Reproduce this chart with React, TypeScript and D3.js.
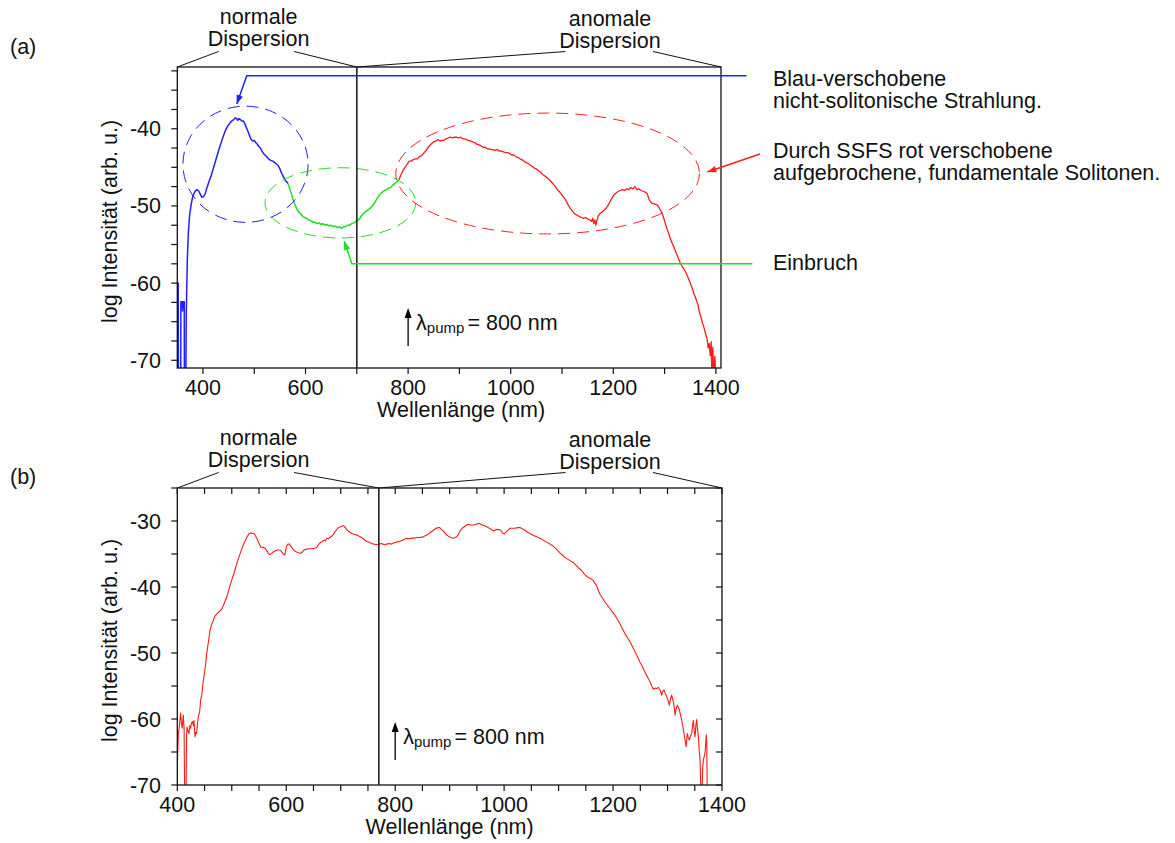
import React from "react";
import * as d3 from "d3";

type Pt = [number, number];

const FONT = "'Liberation Sans', Arial, Helvetica, sans-serif";
const FS = 21.5;

// ---------- spectra (wavelength nm, log intensity) ----------
// (a) short-wavelength part: dispersive wave
const blueSegA: Pt[] = [
  [350, -80], [350.3, -60], [351.8, -60], [352.3, -80], [356.5, -80], [357, -62.4], [359.5, -62.4],
  [360.2, -63.6], [361, -62.4], [363.5, -62.4], [364, -80], [366, -80], [367.5, -64], [369.5, -57],
  [371.5, -53.5], [374, -51.2], [377, -49.8], [380, -48.8], [383, -48.3], [386, -48.0], [389, -47.9],
  [392, -48.1], [395, -48.5], [398, -48.9], [401, -48.8], [404, -48.5], [408, -47.6], [412, -46.8],
  [416, -46.1], [420, -45.2], [424, -44.3], [428, -43.4], [432, -42.5], [436, -41.7], [440, -40.9],
  [444, -40.2], [448, -39.7], [452, -39.3], [456, -39.0], [460, -38.8], [463, -38.6], [466, -38.7],
  [468, -38.9], [470, -38.7], [473, -38.8], [476, -39.0], [479, -39.0], [482, -39.4], [485, -39.9],
  [488, -40.4], [491, -40.9], [494, -41.4], [497, -41.6], [500, -41.5], [503, -41.8], [506, -42.0],
  [509, -42.3], [512, -42.5], [515, -42.9], [518, -43.2], [521, -43.4], [524, -43.6], [528, -43.9],
  [532, -44.1], [536, -44.2], [540, -44.4], [544, -44.6], [547, -44.8], [550, -45.2], [553, -45.7],
  [556, -46.1], [559, -46.5], [562, -46.8], [566, -47.1],
];

// (a) spectral dip between the two regions
const greenSegA: Pt[] = [
  [566, -47.1], [569, -47.7], [572, -48.3], [575, -49.0], [578, -49.6], [581, -50.1], [584, -50.5],
  [587, -50.8], [590, -51.0], [594, -51.3], [598, -51.5], [602, -51.6], [606, -51.8], [610, -51.9],
  [614, -52.1], [618, -52.1], [622, -52.3], [626, -52.2], [630, -52.4], [634, -52.3], [638, -52.5],
  [642, -52.4], [646, -52.6], [650, -52.5], [654, -52.7], [658, -52.6], [662, -52.8], [666, -52.7],
  [670, -52.9], [674, -52.7], [678, -52.7], [682, -52.5], [686, -52.5], [690, -52.3], [694, -52.2],
  [698, -52.0], [702, -51.9], [706, -51.6], [710, -51.2], [714, -50.9], [718, -50.7], [722, -50.5],
  [726, -50.3], [730, -50.0], [734, -49.7], [738, -49.2], [742, -48.8], [746, -48.4], [750, -48.2],
  [754, -48.0], [758, -47.9], [762, -47.7], [766, -47.6], [770, -47.3], [774, -47.1], [778, -46.9],
  [782, -46.6],
];

// (a) long-wavelength part: red-shifted solitons
const redSegA: Pt[] = [
  [782, -46.6], [786, -46.0], [790, -45.4], [794, -45.0], [798, -44.6], [802, -44.2], [806, -44.2],
  [810, -44.0], [814, -43.9], [818, -43.9], [822, -43.6], [826, -43.5], [830, -43.2], [834, -42.9],
  [838, -42.5], [842, -42.2], [846, -41.9], [850, -41.7], [854, -41.6], [858, -41.4], [862, -41.6],
  [866, -41.5], [870, -41.5], [874, -41.3], [878, -41.2], [882, -41.1], [886, -41.2], [890, -41.1],
  [894, -41.1], [898, -41.2], [902, -41.1], [906, -41.3], [910, -41.3], [914, -41.4], [918, -41.5],
  [922, -41.6], [926, -41.7], [930, -41.8], [934, -42.0], [938, -42.1], [942, -42.2], [946, -42.4],
  [950, -42.4], [954, -42.6], [958, -42.6], [962, -42.7], [966, -42.7], [970, -42.8], [974, -42.7],
  [978, -42.9], [982, -42.9], [986, -43.0], [990, -43.1], [994, -43.1], [998, -43.2], [1002, -43.4],
  [1006, -43.4], [1010, -43.6], [1014, -43.7], [1018, -43.9], [1022, -44.0], [1026, -44.2],
  [1030, -44.4], [1034, -44.5], [1038, -44.7], [1042, -44.9], [1046, -45.1], [1050, -45.2],
  [1054, -45.4], [1058, -45.6], [1062, -45.9], [1066, -46.1], [1070, -46.3], [1074, -46.5],
  [1078, -46.8], [1082, -47.1], [1086, -47.4], [1090, -47.8], [1094, -48.1], [1098, -48.4],
  [1102, -48.8], [1106, -49.1], [1110, -49.6], [1114, -50.1], [1118, -50.5], [1122, -50.8],
  [1126, -51.1], [1130, -51.2], [1134, -51.4], [1138, -51.5], [1142, -51.6], [1146, -51.5],
  [1150, -51.7], [1154, -51.8], [1158, -52.0], [1160, -51.6], [1162, -52.3], [1164, -51.8],
  [1166, -52.5], [1168, -51.9], [1170, -51.4], [1174, -51.0], [1178, -50.8], [1182, -50.6],
  [1186, -50.3], [1190, -49.9], [1194, -49.4], [1198, -48.9], [1202, -48.5], [1206, -48.3],
  [1210, -48.1], [1214, -48.0], [1218, -47.9], [1222, -48.0], [1226, -47.8], [1230, -47.9],
  [1234, -47.6], [1238, -47.8], [1242, -47.5], [1246, -47.9], [1250, -47.8], [1254, -48.0],
  [1258, -48.1], [1262, -48.2], [1266, -48.4], [1270, -49.2], [1274, -49.6], [1278, -49.7],
  [1282, -49.8], [1286, -49.9], [1290, -50.3], [1294, -50.8], [1298, -51.5], [1302, -52.4],
  [1306, -53.2], [1310, -54.0], [1314, -54.7], [1318, -55.3], [1322, -56.0], [1326, -56.6],
  [1330, -57.3], [1334, -57.8], [1338, -58.2], [1342, -58.7], [1346, -59.3], [1350, -60.0],
  [1354, -60.7], [1358, -61.5], [1362, -62.2], [1365, -62.8], [1368, -63.8], [1371, -64.4],
  [1374, -65.2], [1377, -65.8], [1380, -66.6], [1383, -67.3], [1385, -68.4], [1387, -67.8],
  [1389, -69.4], [1391, -67.6], [1392, -72], [1394, -68.3], [1396, -72], [1398, -69.5], [1400, -72],
];

// (b) full supercontinuum
const spectrumB: Pt[] = [
  [400, -67.2], [402, -62.2], [404, -61.0], [406, -59.1], [407.5, -60.6], [409, -61.4], [411, -59.4],
  [412.5, -61.5], [413.5, -72], [416, -72], [417, -62.5], [418, -61.2], [420, -62.0], [421.5, -62.2],
  [423, -61.0], [424.5, -61.4], [426, -60.6], [428, -60.4], [429.5, -61.0], [430.7, -60.2],
  [432.5, -62.7], [434, -62.0], [435.5, -62.2], [437, -60.8], [438.6, -59.6], [441, -58.9],
  [443, -57.1], [445.5, -56.0], [447.8, -54.1], [451, -52.4], [454, -50.1], [457, -48.4],
  [460, -46.6], [463, -45.7], [466, -45.1], [469, -44.4], [472, -44.1], [475, -43.9], [478.4, -43.6],
  [481, -43.4], [484.5, -42.8], [487.5, -42.2], [490.6, -41.6], [495, -40.3], [499.8, -39.0],
  [504.5, -37.8], [509, -36.5], [513.5, -35.4], [518, -34.3], [523, -33.3], [527.4, -32.5],
  [531, -32.0], [534, -31.8], [537.5, -31.9], [541, -31.9], [544, -32.3], [547, -32.8], [550, -33.4],
  [553, -33.9], [556, -34.0], [559, -34.0], [562, -34.2], [565, -34.6], [568, -35.0], [570, -35.1],
  [573, -34.9], [576, -34.7], [580, -34.5], [584, -34.4], [588.5, -34.4], [591, -34.6], [593.5, -34.9],
  [596, -35.1], [597.7, -35.1], [599, -34.3], [600.8, -33.8], [603, -33.5], [605.7, -33.5],
  [608.5, -33.8], [611.8, -34.2], [615, -34.5], [619, -34.7], [622, -34.8], [626.5, -34.9],
  [629.5, -34.7], [632.6, -34.4], [636, -34.3], [640.6, -34.2], [645, -34.2], [649.8, -34.2],
  [653, -34.1], [655.9, -34.0], [659, -33.6], [662, -33.3], [666, -33.1], [669.3, -32.9], [672, -33.0],
  [674.5, -32.6], [677.3, -32.7], [680, -32.5], [683.4, -32.3], [686, -32.1], [689.5, -31.6],
  [692, -31.4], [695.6, -31.0], [699, -30.9], [702, -30.8], [704.8, -30.7], [707.5, -30.9],
  [711, -31.3], [715, -31.6], [720.1, -31.9], [725, -32.0], [729.3, -32.1], [734, -32.3],
  [738.5, -32.5], [743, -32.8], [747.6, -33.1], [752, -33.2], [756.8, -33.4], [761, -33.5],
  [766, -33.6], [770, -33.5], [775, -33.4], [780, -33.6], [784.4, -33.5], [789, -33.4],
  [793.5, -33.5], [798, -33.3], [802.7, -33.2], [807, -33.1], [811.9, -33.0], [816, -32.8],
  [821, -32.6], [825, -32.7], [830.2, -32.6], [835, -32.6], [839.4, -32.5], [845, -32.5],
  [851.6, -32.4], [856, -32.2], [860.8, -32.0], [865, -31.7], [870, -31.4], [875, -31.1],
  [879.2, -31.0], [882, -31.0], [885, -31.3], [888.4, -31.5], [893, -32.0], [897.6, -32.3],
  [902, -32.5], [906.8, -32.6], [910, -32.5], [912.9, -32.4], [916, -32.0], [919, -31.5],
  [923, -31.1], [928.2, -30.8], [931, -30.6], [934.3, -30.5], [939, -30.6], [943.5, -30.6],
  [948, -30.5], [952, -30.4], [955.7, -30.4], [959, -30.6], [962, -30.6], [966, -30.8], [971, -31.0],
  [975, -31.2], [980.2, -31.5], [983, -31.4], [986.3, -31.3], [990, -31.3], [993.7, -31.4],
  [997, -31.8], [999.8, -32.0], [1002, -31.8], [1004.7, -31.6], [1008, -31.3], [1010.8, -31.1],
  [1015, -31.1], [1020, -31.1], [1025, -31.0], [1029.2, -31.0], [1034, -31.2], [1038.4, -31.4],
  [1043, -31.7], [1047.5, -31.9], [1054, -32.2], [1059.8, -32.4], [1066, -32.6], [1072, -32.9],
  [1078, -33.2], [1084.3, -33.5], [1090, -33.8], [1096.5, -34.3], [1102, -34.8], [1108.7, -35.3],
  [1115, -35.7], [1121, -36.0], [1127, -36.3], [1133.2, -36.8], [1138, -37.2], [1142.4, -37.5],
  [1147, -38.0], [1151.6, -38.4], [1158, -38.7], [1163.8, -39.0], [1167, -39.5], [1170, -39.8],
  [1173, -40.5], [1176, -41.1], [1180, -41.6], [1185.2, -42.3], [1190, -42.8], [1194.4, -43.3],
  [1199, -43.8], [1203.6, -44.3], [1208, -44.9], [1212.8, -45.6], [1217, -46.3], [1222, -47.1],
  [1226, -47.6], [1231.1, -48.3], [1236, -49.1], [1240.3, -49.8], [1245, -50.6], [1249.5, -51.4],
  [1254, -52.1], [1258.7, -52.9], [1263, -53.6], [1267.9, -54.4], [1271, -55.0], [1274, -55.5],
  [1277, -55.3], [1280.1, -55.4], [1283, -55.2], [1286.2, -55.6], [1289.3, -56.4], [1291, -55.8],
  [1293.6, -55.6], [1296, -56.2], [1298.5, -56.6], [1301, -57.2], [1303.4, -57.9], [1305.5, -56.9],
  [1307.6, -56.4], [1310.7, -57.4], [1312.5, -58.3], [1313.8, -59.4], [1316, -58.4], [1318, -57.9],
  [1320, -58.3], [1321.7, -58.6], [1324, -59.4], [1326, -60.2], [1328, -61.1], [1330.3, -62.2],
  [1332, -63.1], [1334, -64.2], [1336.4, -62.2], [1338, -62.8], [1340.1, -63.2], [1342, -62.6],
  [1344.4, -62.2], [1346, -61.0], [1347.4, -60.2], [1349, -61.8], [1350.5, -62.7], [1352, -61.0],
  [1353.5, -60.1], [1355, -61.5], [1356.6, -62.7], [1358, -64.5], [1359.7, -66.2], [1361.5, -72],
  [1363, -72], [1364.5, -67.5], [1365.8, -66.2], [1368.8, -65.2], [1371.2, -62.4], [1372, -63.5],
  [1373, -72],
];

const xTickLabels = [400, 600, 800, 1000, 1200, 1400];
const yTickLabelsA = [-40, -50, -60, -70];
const yTickLabelsB = [-30, -40, -50, -60, -70];

const PUMP_NM = 800;
const ZERO_DISP_A = 700;
const ZERO_DISP_B = 770;

// Region outlines in panel (a), in data units
const regionsA = [
  { color: "#1f1fff", cx: 483, cy: -44.6, rx: 122, ry: 7.53 },
  { color: "#22dd22", cx: 668, cy: -49.6, rx: 147, ry: 4.55 },
  { color: "#ff2020", cx: 1072, cy: -45.8, rx: 296, ry: 7.83 },
];

// Leader lines (data units) ending in an arrow tip
const leadersA: { color: string; pts: Pt[] }[] = [
  { color: "#1f1fff", pts: [[1459.7, -33.13], [485.4, -33.13], [465.9, -36.8]] },
  { color: "#ff2020", pts: [[1486, -43.28], [1383.4, -45.6]] },
  { color: "#22dd22", pts: [[1471.1, -57.49], [690.3, -57.49], [675.3, -54.55]] },
];

const notesA = [
  { lines: ["Blau-verschobene", "nicht-solitonische Strahlung."], y: 86 },
  { lines: ["Durch SSFS rot verschobene", "aufgebrochene, fundamentale Solitonen."], y: 158 },
  { lines: ["Einbruch"], y: 270 },
];

// ---------- layout ----------
const PA = { x0: 177.3, x1: 721, yTop: 67, yBot: 368, xDom: [350, 1410], yDom: [-71, -32] };
const PB = { x0: 177.3, x1: 722, yTop: 488, yBot: 785, xDom: [400, 1400], yDom: [-70, -25] };
const TICK = 6;

function arrowHead(x1: number, y1: number, x2: number, y2: number, len = 10, half = 3.5) {
  const dx = x2 - x1, dy = y2 - y1;
  const d = Math.hypot(dx, dy) || 1;
  const ux = dx / d, uy = dy / d;
  const bx = x2 - ux * len, by = y2 - uy * len;
  return `${x2},${y2} ${bx - uy * half},${by + ux * half} ${bx + uy * half},${by - ux * half}`;
}

function DispersionHeader({ xL, xZ, xR, yTop }: { xL: number; xZ: number; xR: number; yTop: number }) {
  const up = yTop - 15.5;
  return (
    <g fontSize={FS} textAnchor="middle" fill="#111">
      <text x={258.6} y={yTop - 43}>normale</text>
      <text x={258.6} y={yTop - 21}>Dispersion</text>
      <text x={610} y={yTop - 41}>anomale</text>
      <text x={610} y={yTop - 19}>Dispersion</text>
      <g stroke="#111" strokeWidth={1} fill="none">
        <line x1={xL} y1={yTop} x2={218.6} y2={up} />
        <line x1={294} y1={up} x2={xZ} y2={yTop} />
        <line x1={xZ} y1={yTop} x2={565.5} y2={up} />
        <line x1={653} y1={up} x2={xR} y2={yTop} />
      </g>
    </g>
  );
}

function PumpLabel({ x, yBase }: { x: number; yBase: number }) {
  return (
    <g>
      <line x1={x} y1={yBase + 16} x2={x} y2={yBase - 16} stroke="#000" strokeWidth={1.3} />
      <polygon points={arrowHead(x, yBase + 16, x, yBase - 22, 10, 3.5)} fill="#000" />
      <text x={x + 8} y={yBase} fontSize={FS} fill="#111">
        λ<tspan fontSize={15} dy={3}>pump</tspan>
        <tspan dy={-3} dx={3}>= 800 nm</tspan>
      </text>
    </g>
  );
}

export default function App() {
  const xa = d3.scaleLinear().domain(PA.xDom).range([PA.x0, PA.x1]);
  const ya = d3.scaleLinear().domain(PA.yDom).range([PA.yBot, PA.yTop]);
  const xb = d3.scaleLinear().domain(PB.xDom).range([PB.x0, PB.x1]);
  const yb = d3.scaleLinear().domain(PB.yDom).range([PB.yBot, PB.yTop]);

  const lineA = d3.line<Pt>().x((d) => xa(d[0])).y((d) => ya(d[1]));
  const lineB = d3.line<Pt>().x((d) => xb(d[0])).y((d) => yb(d[1]));

  const minorXA = d3.range(400, 1401, 100);
  const minorYA = d3.range(-70, -32, 2.5);
  const minorXB = d3.range(400, 1401, 50);
  const minorYB = d3.range(-70, -24, 5);

  return (
    <div style={{ position: "absolute", left: 0, top: 0 }}>
      <svg width={1175} height={843} style={{ display: "block", background: "#fff" }} fontFamily={FONT}>
        <defs>
          <clipPath id="clipA">
            <rect x={PA.x0} y={PA.yTop} width={PA.x1 - PA.x0} height={PA.yBot - PA.yTop} />
          </clipPath>
          <clipPath id="clipB">
            <rect x={PB.x0} y={PB.yTop} width={PB.x1 - PB.x0} height={PB.yBot - PB.yTop} />
          </clipPath>
        </defs>

        {/* ================= panel (a) ================= */}
        <text x={10} y={54} fontSize={FS} fill="#111">(a)</text>
        <DispersionHeader xL={PA.x0} xZ={xa(ZERO_DISP_A)} xR={PA.x1} yTop={PA.yTop} />

        <g clipPath="url(#clipA)" fill="none" strokeWidth={1.5} strokeLinejoin="round">
          <path d={lineA(blueSegA) ?? ""} stroke="#1f1fff" />
          <path d={lineA(greenSegA) ?? ""} stroke="#22dd22" />
          <path d={lineA(redSegA) ?? ""} stroke="#ff1a1a" strokeWidth={1.3} />
        </g>

        {regionsA.map((r, i) => (
          <ellipse
            key={i}
            cx={xa(r.cx)}
            cy={ya(r.cy)}
            rx={xa(r.cx + r.rx) - xa(r.cx)}
            ry={ya(r.cy - r.ry) - ya(r.cy)}
            fill="none"
            stroke={r.color}
            strokeWidth={1}
            strokeDasharray="12 7"
          />
        ))}

        {/* plot frame and zero-dispersion line */}
        <rect x={PA.x0} y={PA.yTop} width={PA.x1 - PA.x0} height={PA.yBot - PA.yTop} fill="none" stroke="#111" strokeWidth={1.3} />
        <line x1={xa(ZERO_DISP_A)} x2={xa(ZERO_DISP_A)} y1={PA.yTop} y2={PA.yBot} stroke="#222" strokeWidth={1.6} />

        {leadersA.map((l, i) => {
          const p = l.pts.map(([x, y]) => [xa(x), ya(y)] as Pt);
          const n = p.length;
          return (
            <g key={i}>
              <polyline points={p.map((q) => q.join(",")).join(" ")} fill="none" stroke={l.color} strokeWidth={1.5} />
              <polygon points={arrowHead(p[n - 2][0], p[n - 2][1], p[n - 1][0], p[n - 1][1], 9, 3.3)} fill={l.color} />
            </g>
          );
        })}

        {notesA.map((n, i) => (
          <text key={i} x={773} y={n.y} fontSize={FS} fill="#111">
            {n.lines.map((s, j) => (
              <tspan key={j} x={773} dy={j === 0 ? 0 : 22}>{s}</tspan>
            ))}
          </text>
        ))}

        <PumpLabel x={xa(PUMP_NM)} yBase={330} />

        {/* axes (a) */}
        <g stroke="#111" strokeWidth={1.2}>
          {minorXA.map((v) => (
            <line key={v} x1={xa(v)} x2={xa(v)} y1={PA.yBot} y2={PA.yBot + TICK} />
          ))}
          {minorYA.map((v) => (
            <line key={v} x1={PA.x0 - TICK} x2={PA.x0} y1={ya(v)} y2={ya(v)} />
          ))}
        </g>
        <g fontSize={FS} fill="#111">
          {xTickLabels.map((v) => (
            <text key={v} x={xa(v)} y={PA.yBot + 26.5} textAnchor="middle">{v}</text>
          ))}
          {yTickLabelsA.map((v) => (
            <text key={v} x={161} y={ya(v) + 7.5} textAnchor="end">{v}</text>
          ))}
          <text x={(PA.x0 + PA.x1) / 2 + 12} y={PA.yBot + 49} textAnchor="middle">Wellenlänge (nm)</text>
          <text transform={`translate(117,${(PA.yTop + PA.yBot) / 2 + 4}) rotate(-90)`} textAnchor="middle">
            log Intensität (arb. u.)
          </text>
        </g>

        {/* ================= panel (b) ================= */}
        <text x={10} y={484} fontSize={FS} fill="#111">(b)</text>
        <DispersionHeader xL={PB.x0} xZ={xb(ZERO_DISP_B)} xR={PB.x1} yTop={PB.yTop} />

        <g clipPath="url(#clipB)" fill="none" strokeWidth={1.1} strokeLinejoin="round">
          <path d={lineB(spectrumB) ?? ""} stroke="#ff1a1a" />
        </g>

        <rect x={PB.x0} y={PB.yTop} width={PB.x1 - PB.x0} height={PB.yBot - PB.yTop} fill="none" stroke="#111" strokeWidth={1.3} />
        <line x1={xb(ZERO_DISP_B)} x2={xb(ZERO_DISP_B)} y1={PB.yTop} y2={PB.yBot} stroke="#222" strokeWidth={1.6} />

        <PumpLabel x={xb(PUMP_NM)} yBase={744} />

        <g stroke="#111" strokeWidth={1.2}>
          {minorXB.map((v) => (
            <g key={v}>
              <line x1={xb(v)} x2={xb(v)} y1={PB.yBot} y2={PB.yBot + TICK} />
              <line x1={xb(v)} x2={xb(v)} y1={PB.yTop} y2={PB.yTop + TICK} />
            </g>
          ))}
          {minorYB.map((v) => (
            <g key={v}>
              <line x1={PB.x0 - TICK} x2={PB.x0} y1={yb(v)} y2={yb(v)} />
              <line x1={PB.x1 - TICK} x2={PB.x1} y1={yb(v)} y2={yb(v)} />
            </g>
          ))}
        </g>
        <g fontSize={FS} fill="#111">
          {xTickLabels.map((v) => (
            <text key={v} x={xb(v)} y={PB.yBot + 26.5} textAnchor="middle">{v}</text>
          ))}
          {yTickLabelsB.map((v) => (
            <text key={v} x={161} y={yb(v) + 7.5} textAnchor="end">{v}</text>
          ))}
          <text x={(PB.x0 + PB.x1) / 2} y={PB.yBot + 49} textAnchor="middle">Wellenlänge (nm)</text>
          <text transform={`translate(117,${(PB.yTop + PB.yBot) / 2 + 4}) rotate(-90)`} textAnchor="middle">
            log Intensität (arb. u.)
          </text>
        </g>
      </svg>
    </div>
  );
}
